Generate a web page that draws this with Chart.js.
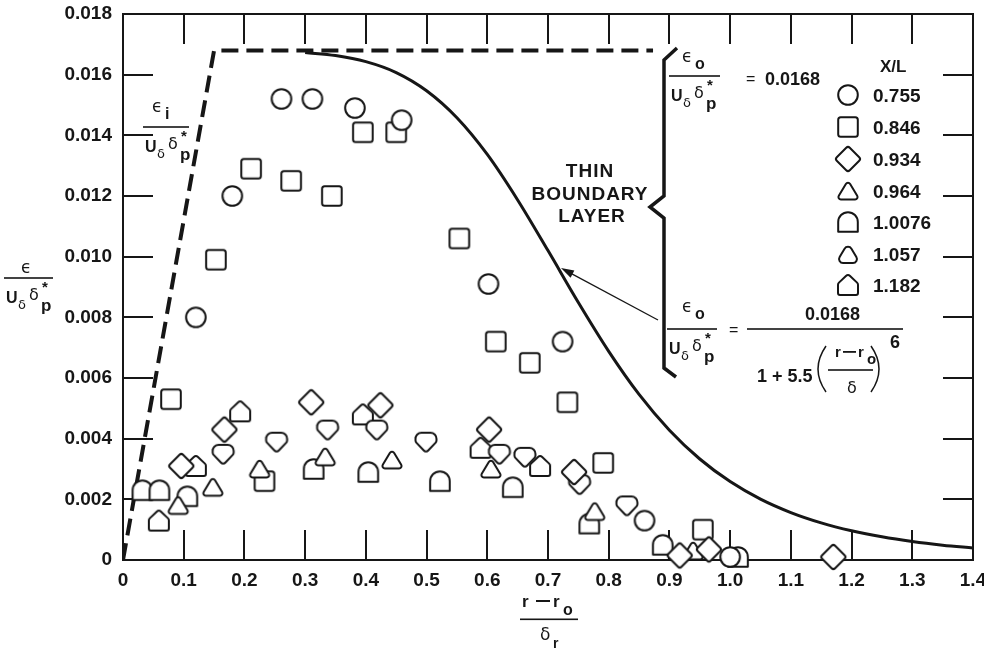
<!DOCTYPE html>
<html>
<head>
<meta charset="utf-8">
<title>Eddy viscosity distribution across the boundary layer</title>
<script src="https://cdn.jsdelivr.net/npm/chart.js@4.4.1/dist/chart.umd.min.js"></script>
<style>
  html, body { margin: 0; padding: 0; background: #fff; }
  canvas { display: block; }
</style>
</head>
<body>
<canvas id="chart" width="984" height="648"></canvas>
<script>
// ---- axis ticks ----
const xTickValues = [0, 0.1, 0.2, 0.3, 0.4, 0.5, 0.6, 0.7, 0.8, 0.9, 1.0, 1.1, 1.2, 1.3, 1.4];
const xTickLabels = ['0', '0.1', '0.2', '0.3', '0.4', '0.5', '0.6', '0.7', '0.8', '0.9', '1.0', '1.1', '1.2', '1.3', '1.4'];
const yTickValues = [0, 0.002, 0.004, 0.006, 0.008, 0.010, 0.012, 0.014, 0.016, 0.018];
const yTickLabels = ['0', '0.002', '0.004', '0.006', '0.008', '0.010', '0.012', '0.014', '0.016', '0.018'];

// ---- inner-layer model (dashed): linear rise, then constant 0.0168 ----
const innerR = [0, 0.15, 0.873];
const innerEps = [0, 0.0168, 0.0168];

// ---- outer-layer model (solid): 0.0168 / (1 + 5.5 ((r - r0)/delta)^6) ----
const outerR = [0.30, 0.35, 0.40, 0.45, 0.50, 0.55, 0.60, 0.65, 0.70, 0.75, 0.80, 0.85,
                0.90, 0.95, 1.00, 1.05, 1.10, 1.15, 1.20, 1.25, 1.30, 1.35, 1.40];
const outerEps = [0.01673, 0.01663, 0.01643, 0.01607, 0.01547, 0.01458, 0.01337, 0.01187,
                  0.01020, 0.00849, 0.00688, 0.00546, 0.00428, 0.00333, 0.002585, 0.002007,
                  0.001564, 0.001224, 0.000964, 0.000764, 0.000610, 0.000490, 0.000396];

// ---- measured eddy viscosity, by station X/L ----
const seriesLabels = ['0.755', '0.846', '0.934', '0.964', '1.0076', '1.057', '1.182'];

const r0755 = [0.120, 0.180, 0.261, 0.312, 0.382, 0.459, 0.602, 0.724, 0.859, 1.000];
const e0755 = [0.0080, 0.0120, 0.0152, 0.0152, 0.0149, 0.0145, 0.0091, 0.0072, 0.0013, 0.0001];

const r0846 = [0.079, 0.153, 0.211, 0.233, 0.277, 0.344, 0.395, 0.450, 0.554, 0.614, 0.670, 0.732, 0.791, 0.955];
const e0846 = [0.0053, 0.0099, 0.0129, 0.0026, 0.0125, 0.0120, 0.0141, 0.0141, 0.0106, 0.0072, 0.0065, 0.0052, 0.0032, 0.0010];

const r0934 = [0.096, 0.167, 0.310, 0.424, 0.603, 0.743, 0.917, 0.965, 1.170];
const e0934 = [0.0031, 0.0043, 0.0052, 0.0051, 0.0043, 0.0029, 0.00015, 0.00035, 0.0001];

const r0964 = [0.091, 0.148, 0.225, 0.333, 0.443, 0.606, 0.777, 0.939];
const e0964 = [0.0018, 0.0024, 0.0030, 0.0034, 0.0033, 0.0030, 0.0016, 0.0003];

const r10076 = [0.032, 0.060, 0.106, 0.314, 0.404, 0.522, 0.642, 0.768, 0.889, 1.013];
const e10076 = [0.0023, 0.0023, 0.0021, 0.0030, 0.0029, 0.0026, 0.0024, 0.0012, 0.0005, 0.0001];

const r1057 = [0.165, 0.253, 0.337, 0.418, 0.499, 0.620, 0.662, 0.752, 0.830];
const e1057 = [0.0035, 0.0039, 0.0043, 0.0043, 0.0039, 0.0035, 0.0034, 0.0025, 0.0018];

const r1182 = [0.059, 0.120, 0.193, 0.395, 0.589, 0.687];
const e1182 = [0.0013, 0.0031, 0.0049, 0.0048, 0.0037, 0.0031];

// ---- drawing helpers ----
const SANS = '"Liberation Sans", Arial, Helvetica, sans-serif';
const GREEK = '"DejaVu Sans", sans-serif';
const INK = '#161616';
const TICK = 30;

function roundedPoly(g, pts, r) {
  const n = pts.length;
  const a = pts[n - 1], b = pts[0];
  g.moveTo((a[0] + b[0]) / 2, (a[1] + b[1]) / 2);
  for (let i = 0; i < n; i++) {
    const p = pts[i], q = pts[(i + 1) % n];
    g.arcTo(p[0], p[1], (p[0] + q[0]) / 2, (p[1] + q[1]) / 2, Array.isArray(r) ? r[i] : r);
  }
  g.closePath();
}

function marker(kind) {
  const c = document.createElement('canvas');
  c.width = 34; c.height = 34;
  const g = c.getContext('2d');
  g.translate(17, 17);
  g.lineWidth = 2;
  g.lineJoin = 'round';
  g.strokeStyle = INK;
  g.fillStyle = '#fff';
  g.beginPath();
  switch (kind) {
    case 'circle': g.arc(0, 0, 9.8, 0, Math.PI * 2); break;
    case 'square': roundedPoly(g, [[-9.8, -9.8], [9.8, -9.8], [9.8, 9.8], [-9.8, 9.8]], 2.5); break;
    case 'diamond': roundedPoly(g, [[0, -13], [13, 0], [0, 13], [-13, 0]], 2.5); break;
    case 'triangle': roundedPoly(g, [[0, -10.5], [11.5, 8.5], [-11.5, 8.5]], 2.5); break;
    case 'triangleRound': roundedPoly(g, [[0, -11], [12, 9], [-12, 9]], 4); break;
    case 'arch':
      g.moveTo(-9.8, 9.8); g.lineTo(-9.8, 0); g.arc(0, 0, 9.8, Math.PI, 0); g.lineTo(9.8, 9.8); g.closePath();
      break;
    case 'house': roundedPoly(g, [[-10, 10], [10, 10], [10, -1.5], [0, -11], [-10, -1.5]], [2, 2, 3, 3, 3]); break;
    case 'shield': roundedPoly(g, [[-10.5, -9], [10.5, -9], [10.5, 0], [0, 11], [-10.5, 0]], [6, 6, 3, 3, 3]); break;
  }
  g.fill();
  g.stroke();
  return c;
}

const pts = (xs, ys) => xs.map((v, i) => ({ x: v, y: ys[i] }));

function scatterSet(label, xs, ys, kind) {
  return {
    type: 'scatter', label, data: pts(xs, ys), pointStyle: marker(kind),
    pointRadius: 10, pointHoverRadius: 10, clip: false, order: 0
  };
}

// fraction  eps_sub / (U_delta delta_p*)
function epsFrac(ctx, x0, yb, w, numX, numBase, sub) {
  ctx.fillRect(x0, yb - 0.8, w, 1.6);
  ctx.font = '17px ' + GREEK;
  ctx.fillText('\u03F5', numX, yb + numBase);
  if (sub) { ctx.font = 'bold 16px ' + SANS; ctx.fillText(sub, numX + 13, yb + numBase + 7); }
  ctx.font = 'bold 16px ' + SANS; ctx.fillText('U', x0 + 2, yb + 25);
  ctx.font = '13px ' + GREEK; ctx.fillText('\u03B4', x0 + 14, yb + 31);
  ctx.font = '16px ' + GREEK; ctx.fillText('\u03B4', x0 + 25, yb + 22);
  ctx.font = 'bold 15px ' + SANS; ctx.fillText('*', x0 + 38, yb + 14);
  ctx.font = 'bold 17px ' + SANS; ctx.fillText('p', x0 + 37, yb + 33);
}

const legendKinds = ['circle', 'square', 'diamond', 'triangle', 'arch', 'triangleRound', 'house'];
const legendMarks = legendKinds.map(marker);

const frame = {
  id: 'frame',
  beforeDatasetsDraw(chart) {
    const { ctx, chartArea: a, scales: { x, y } } = chart;
    ctx.save();
    ctx.strokeStyle = INK;
    ctx.lineWidth = 2;
    ctx.strokeRect(a.left, a.top, a.right - a.left, a.bottom - a.top);
    ctx.beginPath();
    x.ticks.forEach(t => {
      if (t.value <= x.min || t.value >= x.max) return;
      const px = Math.round(x.getPixelForValue(t.value));
      ctx.moveTo(px, a.bottom); ctx.lineTo(px, a.bottom - TICK);
      ctx.moveTo(px, a.top); ctx.lineTo(px, a.top + TICK);
    });
    y.ticks.forEach(t => {
      if (t.value <= y.min || t.value >= y.max) return;
      const py = Math.round(y.getPixelForValue(t.value));
      ctx.moveTo(a.left, py); ctx.lineTo(a.left + TICK, py);
      ctx.moveTo(a.right, py); ctx.lineTo(a.right - TICK, py);
    });
    ctx.stroke();
    ctx.restore();
  },
  afterDraw(chart) {
    const ctx = chart.ctx;
    ctx.save();
    ctx.fillStyle = INK;
    ctx.strokeStyle = INK;
    ctx.textBaseline = 'alphabetic';
    ctx.textAlign = 'left';

    // y-axis title
    epsFrac(ctx, 4, 278, 49, 21, -5, null);
    // inner-layer label
    epsFrac(ctx, 143, 127, 46, 152, -15, 'i');
    // outer-layer constant
    epsFrac(ctx, 669, 76, 51, 682, -14, 'o');
    ctx.font = '16px ' + SANS; ctx.fillText('=', 746, 84);
    ctx.font = 'bold 18px ' + SANS; ctx.fillText('0.0168', 765, 85);

    // outer-layer formula
    epsFrac(ctx, 667, 329, 50, 682, -17, 'o');
    ctx.font = '16px ' + SANS; ctx.fillText('=', 729, 335);
    ctx.fillRect(747, 328.2, 156, 1.6);
    ctx.font = 'bold 18px ' + SANS; ctx.fillText('0.0168', 805, 320);
    ctx.fillText('1 + 5.5', 757, 382);
    ctx.lineWidth = 1.5;
    ctx.beginPath();
    ctx.moveTo(826, 346); ctx.quadraticCurveTo(810, 369, 826, 392);
    ctx.moveTo(871, 346); ctx.quadraticCurveTo(887, 369, 871, 392);
    ctx.stroke();
    ctx.font = 'bold 15px ' + SANS;
    ctx.fillText('r', 835, 357);
    ctx.fillRect(843, 351, 13, 1.8);
    ctx.fillText('r', 858, 357);
    ctx.fillText('o', 867, 364);
    ctx.fillRect(828, 369.2, 45, 1.6);
    ctx.font = '16px ' + GREEK; ctx.fillText('\u03B4', 847, 393);
    ctx.font = 'bold 18px ' + SANS; ctx.fillText('6', 890, 348);

    // x-axis title
    ctx.font = 'bold 17px ' + SANS;
    ctx.fillText('r', 522, 607);
    ctx.fillRect(536, 600, 14, 2);
    ctx.fillText('r', 553, 607);
    ctx.font = 'bold 16px ' + SANS; ctx.fillText('o', 563, 615);
    ctx.fillRect(520, 618.5, 58, 1.6);
    ctx.font = '17px ' + GREEK; ctx.fillText('\u03B4', 540, 640);
    ctx.font = 'bold 14px ' + SANS; ctx.fillText('r', 553, 648);

    // "thin boundary layer" note
    ctx.font = 'bold 19px ' + SANS;
    ctx.textAlign = 'center';
    ctx.letterSpacing = '1px';
    ctx.fillText('THIN', 590, 177);
    ctx.fillText('BOUNDARY', 590, 200);
    ctx.fillText('LAYER', 592, 222);
    ctx.letterSpacing = '0px';
    ctx.textAlign = 'left';

    // brace
    ctx.lineWidth = 3.5;
    ctx.lineJoin = 'miter';
    ctx.beginPath();
    ctx.moveTo(677, 48); ctx.lineTo(664, 60); ctx.lineTo(664, 196);
    ctx.lineTo(650, 207); ctx.lineTo(664, 218); ctx.lineTo(664, 368); ctx.lineTo(676, 377);
    ctx.stroke();

    // arrow to the outer-layer curve
    const ax = 658, ay = 320, bx = 561, by = 268;
    const len = Math.hypot(bx - ax, by - ay), ux = (bx - ax) / len, uy = (by - ay) / len;
    ctx.lineWidth = 1.3;
    ctx.beginPath(); ctx.moveTo(ax, ay); ctx.lineTo(bx - ux * 6, by - uy * 6); ctx.stroke();
    ctx.beginPath();
    ctx.moveTo(bx, by);
    ctx.lineTo(bx - ux * 13 - uy * 4, by - uy * 13 + ux * 4);
    ctx.lineTo(bx - ux * 13 + uy * 4, by - uy * 13 - ux * 4);
    ctx.closePath(); ctx.fill();

    // legend
    ctx.font = 'bold 17px ' + SANS;
    ctx.fillText('X/L', 880, 72);
    ctx.font = 'bold 19px ' + SANS;
    const rowY = [95, 127, 159, 191, 222, 254, 285];
    seriesLabels.forEach((lab, i) => {
      const m = legendMarks[i];
      ctx.drawImage(m, 848 - m.width / 2, rowY[i] - m.height / 2);
      ctx.fillText(lab, 873, rowY[i] + 7);
    });
    ctx.restore();
  }
};

new Chart(document.getElementById('chart'), {
  data: {
    datasets: [
      scatterSet(seriesLabels[0], r0755, e0755, 'circle'),
      scatterSet(seriesLabels[2], r0934, e0934, 'diamond'),
      scatterSet(seriesLabels[3], r0964, e0964, 'triangle'),
      scatterSet(seriesLabels[5], r1057, e1057, 'shield'),
      scatterSet(seriesLabels[1], r0846, e0846, 'square'),
      scatterSet(seriesLabels[4], r10076, e10076, 'arch'),
      scatterSet(seriesLabels[6], r1182, e1182, 'house'),
      {
        type: 'line', label: 'inner', data: pts(innerR, innerEps),
        borderColor: INK, borderWidth: 4, borderDash: [17, 8], borderJoinStyle: 'round',
        pointRadius: 0, fill: false, order: 1
      },
      {
        type: 'line', label: 'outer', data: pts(outerR, outerEps),
        borderColor: INK, borderWidth: 3, cubicInterpolationMode: 'monotone',
        pointRadius: 0, fill: false, order: 1
      }
    ]
  },
  options: {
    responsive: false,
    animation: false,
    devicePixelRatio: 1,
    layout: { padding: { left: 0, right: 11, top: 14, bottom: 0 } },
    plugins: { legend: { display: false }, tooltip: { enabled: false } },
    scales: {
      x: {
        type: 'linear', min: 0, max: 1.4,
        afterBuildTicks: s => { s.ticks = xTickValues.map(v => ({ value: v })); },
        afterFit: s => { s.height = 88; s.paddingLeft = 0; s.paddingRight = 0; },
        grid: { display: false, drawTicks: false },
        border: { display: false },
        ticks: {
          callback: (v, i) => xTickLabels[i], autoSkip: false, maxRotation: 0,
          padding: 9, color: INK, font: { family: SANS, size: 19, weight: 'bold' }
        }
      },
      y: {
        type: 'linear', min: 0, max: 0.018,
        afterBuildTicks: s => { s.ticks = yTickValues.map(v => ({ value: v })); },
        afterFit: s => { s.width = 123; s.paddingTop = 0; s.paddingBottom = 0; },
        grid: { display: false, drawTicks: false },
        border: { display: false },
        ticks: {
          callback: (v, i) => yTickLabels[i], autoSkip: false,
          padding: 11, color: INK, font: { family: SANS, size: 19, weight: 'bold' }
        }
      }
    }
  },
  plugins: [frame]
});
</script>
</body>
</html>
